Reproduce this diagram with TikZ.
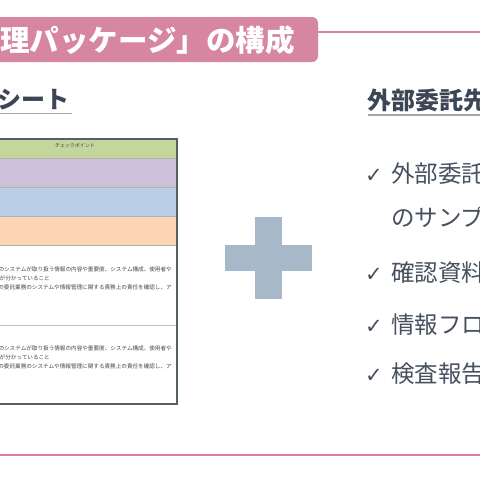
\documentclass[tikz,border=0pt]{standalone}
\usepackage{fontspec}
\setmainfont{Noto Sans CJK JP}
\newfontfamily\symfont{DejaVu Sans}
\definecolor{bannerpink}{RGB}{214,134,160}
\definecolor{linepink}{RGB}{214,130,156}
\definecolor{slate}{RGB}{60,70,86}
\definecolor{listgray}{RGB}{70,80,94}
\definecolor{plusblue}{RGB}{167,185,201}
\definecolor{rowgreen}{RGB}{195,214,155}
\definecolor{rowpurple}{RGB}{204,192,218}
\definecolor{rowblue}{RGB}{185,205,229}
\definecolor{roworange}{RGB}{252,213,181}
\definecolor{frame}{RGB}{85,95,102}
\definecolor{tinytext}{RGB}{70,70,70}
\tikzset{
  banner/.style={fill=bannerpink, rounded corners=6pt, inner sep=0pt, minimum width=348pt, minimum height=45pt, text width=330pt, align=right},
  heading/.style={inner sep=0pt, text=slate, font=\bfseries\fontsize{24}{28}\selectfont},
  listitem/.style={inner sep=0pt, anchor=west, text=listgray, font=\fontsize{23.5}{28}\selectfont},
  checkmark/.style={inner sep=0pt, anchor=west, text=listgray, font=\symfont\fontsize{21}{24}\selectfont},
  tiny/.style={inner sep=0pt, anchor=base east, text=tinytext, font=\fontsize{5.6}{6}\selectfont},
  pinkline/.style={draw=linepink, line width=2pt},
  underline/.style={draw=gray!70, line width=1.1pt},
  sheetrow/.style={draw=gray!60, line width=0.6pt}
}
\begin{document}
\begin{tikzpicture}[x=1pt,y=-1pt]
\useasboundingbox (0,0) rectangle (480,480);
\clip (0,0) rectangle (480,480);
\fill[white] (0,0) rectangle (480,480);

% title banner
\node[banner] (banner) at (144,39.5) {};
\node[anchor=east, inner sep=0pt, text=white, font=\bfseries\fontsize{29.5}{32}\selectfont] (title) at (295,40) {「外部委託先管理パッケージ」の構成};
\coordinate (topend) at (480,32);
\draw[pinkline] (banner.east |- topend) -- (topend);

% bottom line
\coordinate (botstart) at (0,455);
\coordinate (botend) at (480,455);
\draw[pinkline] (botstart) -- (botend);

% left heading
\node[heading, anchor=east] (lefthead) at (70,100) {チェックシート};
\coordinate (lul) at (0,113.5);
\coordinate (lur) at (72,113.5);
\draw[underline] (lul) -- (lur);

% check sheet
\fill[rowgreen] (-20,139) rectangle (177,158);
\fill[rowpurple] (-20,158) rectangle (177,187);
\fill[rowblue] (-20,187) rectangle (177,216);
\fill[roworange] (-20,216) rectangle (177,245);
\draw[sheetrow] (-20,158) -- (177,158);
\draw[sheetrow] (-20,187) -- (177,187);
\draw[sheetrow] (-20,216) -- (177,216);
\draw[sheetrow] (-20,245) -- (177,245);
\draw[draw=gray!50, line width=1pt] (-20,325) -- (177,325);
\draw[draw=frame, line width=1.6pt] (-20,139) -- (177,139) -- (177,404) -- (-20,404);
\node[inner sep=0pt, text=tinytext, font=\fontsize{5}{6}\selectfont] (cp) at (75,145.5) {チェックポイント};

\node[tiny] (a1) at (172,271) {外部委託先のシステムが取り扱う情報の内容や重要度、システム構成、使用者や};
\node[tiny] (a2) at (50,280.5) {利用者などが分かっていること};
\node[tiny] (a3) at (172,289.5) {外部委託先の委託業務のシステムや情報管理に関する責務上の責任を確認し、ア};
\node[tiny] (b1) at (172,350) {外部委託先のシステムが取り扱う情報の内容や重要度、システム構成、使用者や};
\node[tiny] (b2) at (50,359.5) {利用者などが分かっていること};
\node[tiny] (b3) at (172,368.5) {外部委託先の委託業務のシステムや情報管理に関する責務上の責任を確認し、ア};

% plus sign
\fill[plusblue] (255,217) rectangle (282,299);
\fill[plusblue] (225,245) rectangle (312,271);

% right heading
\node[heading, anchor=west] (righthead) at (367,100) {外部委託先管理ツール};
\coordinate (rul) at (368,115);
\coordinate (rur) at (480,115);
\draw[underline] (rul) -- (rur);

% list
\node[checkmark] (c1) at (365,176) {✓};
\node[listitem] (l1) at (391,174) {外部委託先との契約書};
\node[listitem] (l2) at (391,217) {のサンプル};
\node[checkmark] (c3) at (365,275) {✓};
\node[listitem] (l3) at (391,273) {確認資料一覧};
\node[checkmark] (c4) at (365,327) {✓};
\node[listitem] (l4) at (391,325) {情報フロー図};
\node[checkmark] (c5) at (365,376) {✓};
\node[listitem] (l5) at (391,374) {検査報告書};
\end{tikzpicture}
\end{document}
